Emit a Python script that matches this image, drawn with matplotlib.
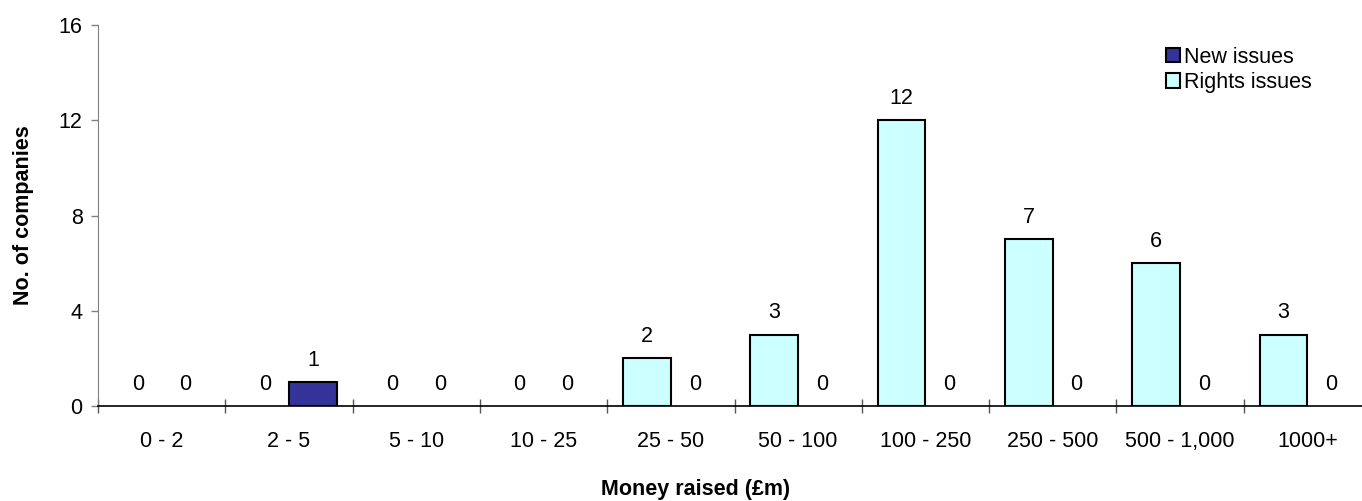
import matplotlib.pyplot as plt
from matplotlib.patches import Patch
import numpy as np

plt.rcParams['font.family'] = ['Liberation Sans', 'DejaVu Sans']

categories = ['0 - 2', '2 - 5', '5 - 10', '10 - 25', '25 - 50', '50 - 100',
              '100 - 250', '250 - 500', '500 - 1,000', '1000+']
rights_issues = [0, 0, 0, 0, 2, 3, 12, 7, 6, 3]
new_issues = [0, 1, 0, 0, 0, 0, 0, 0, 0, 0]

W, H = 1362, 501
fig = plt.figure(figsize=(W / 100, H / 100), dpi=100)
ax = fig.add_axes([98 / W, 1 - 406 / H, (1371 - 98) / W, (406 - 25) / H])

x = np.arange(len(categories)) + 0.5
bw = 0.375
fs = 15.5
c_rights = '#CCFFFF'
c_new = '#333399'

# zero bars get no outline, like the original
lw_r = [1.5 if v else 0 for v in rights_issues]
lw_n = [1.5 if v else 0 for v in new_issues]
ax.bar(x - bw / 2, rights_issues, bw, color=c_rights, edgecolor='black',
       linewidth=lw_r, zorder=3)
ax.bar(x + bw / 2, new_issues, bw, color=c_new, edgecolor='black',
       linewidth=lw_n, zorder=3)

# data labels above every bar (also for zeros)
for xs, vals in ((x - bw / 2, rights_issues), (x + bw / 2, new_issues)):
    for xi, v in zip(xs, vals):
        ax.annotate(str(v), (xi, v), xytext=(0, 8), textcoords='offset points',
                    ha='center', va='bottom', fontsize=fs)

ax.set_xlim(0, len(categories))
ax.set_ylim(0, 16)
ax.set_yticks([0, 4, 8, 12, 16])
ax.tick_params(axis='y', labelsize=fs, length=5, width=1, color='#808080',
               pad=6)

# boundary ticks across the axis, labels at category centres
ax.set_xticks(np.arange(0, len(categories) + 1))
ax.set_xticklabels([])
ax.tick_params(axis='x', which='major', direction='inout', length=10,
               width=1, color='#555555')
ax.set_xticks(x, minor=True)
ax.set_xticklabels(categories, minor=True, fontsize=fs)
ax.tick_params(axis='x', which='minor', length=0, pad=18)

for s in ('top', 'right'):
    ax.spines[s].set_visible(False)
ax.spines['left'].set_color('#808080')
ax.spines['bottom'].set_color('black')
ax.spines['bottom'].set_linewidth(1.2)
ax.spines['bottom'].set_zorder(4)

ax.set_ylabel('No. of companies', fontsize=fs, fontweight='bold', labelpad=18)
fig.text(696 / W, 1 - 490 / H, 'Money raised (£m)', fontsize=fs,
         fontweight='bold', ha='center', va='center')

handles = [Patch(facecolor=c_new, edgecolor='black', linewidth=1.5),
           Patch(facecolor=c_rights, edgecolor='black', linewidth=1.5)]
ax.legend(handles, ['New issues', 'Rights issues'], frameon=False,
          loc='upper left', bbox_to_anchor=(1157 / W, 1 - 38 / H),
          bbox_transform=fig.transFigure, fontsize=fs, handlelength=0.65,
          handleheight=0.65, handletextpad=0.2, labelspacing=0.2,
          borderaxespad=0)

fig.savefig('out.png', dpi=100)
